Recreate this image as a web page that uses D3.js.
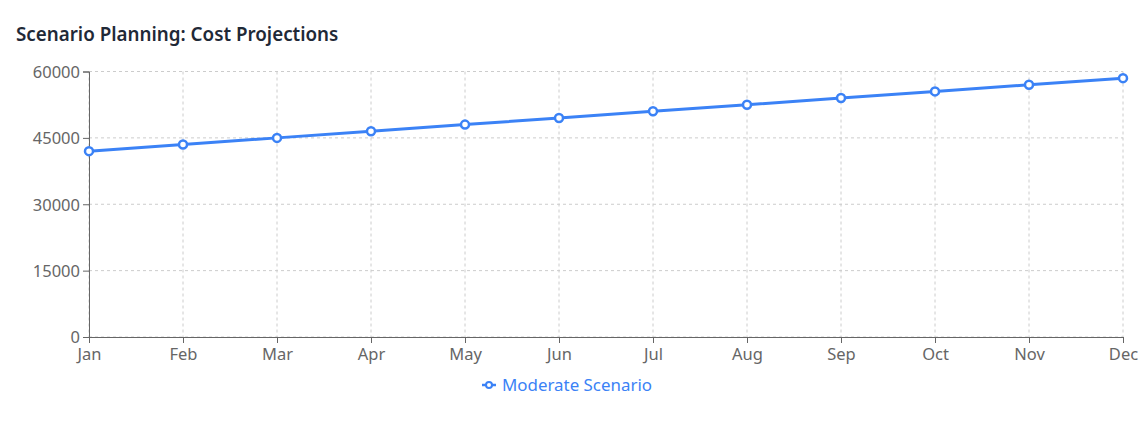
<!DOCTYPE html>
<html>
<head>
<meta charset="utf-8">
<script src="https://cdn.jsdelivr.net/npm/d3@7"></script>
<style>
  body { margin: 0; background: #fff; font-family: "Noto Sans", "Open Sans", sans-serif; }
  svg text { font-family: "Noto Sans", "Open Sans", sans-serif; }
</style>
</head>
<body>
<svg id="chart" width="1148" height="427"></svg>
<script>
const MONTHS = ["Jan", "Feb", "Mar", "Apr", "May", "Jun", "Jul", "Aug", "Sep", "Oct", "Nov", "Dec"];
const MODERATE = [42000, 43500, 45000, 46500, 48000, 49500, 51000, 52500, 54000, 55500, 57000, 58500];
const Y_TICKS = [0, 15000, 30000, 45000, 60000];
const SERIES_NAME = "Moderate Scenario";
const BLUE = "#3b82f6";

const svg = d3.select("#chart");
const margin = { left: 89, right: 25, top: 71.5, bottom: 90 };
const width = 1148, height = 427;

svg.append("text")
  .attr("x", 16).attr("y", 41)
  .attr("font-size", 18.8).attr("font-weight", 600)
  .attr("fill", "#1f2937")
  .text("Scenario Planning: Cost Projections");

const x = d3.scalePoint().domain(MONTHS).range([margin.left, width - margin.right]);
const y = d3.scaleLinear().domain([0, 60000]).range([height - margin.bottom, margin.top]);

// grid
const grid = svg.append("g").attr("stroke", "#ccc").attr("stroke-dasharray", "3 3");
grid.selectAll(".h").data(Y_TICKS).enter().append("line")
  .attr("x1", margin.left).attr("x2", width - margin.right)
  .attr("y1", (d) => y(d)).attr("y2", (d) => y(d));
grid.selectAll(".v").data(MONTHS).enter().append("line")
  .attr("x1", (d) => x(d)).attr("x2", (d) => x(d))
  .attr("y1", margin.top).attr("y2", height - margin.bottom);

// axes
const xAxis = svg.append("g")
  .attr("transform", `translate(0,${height - margin.bottom})`)
  .call(d3.axisBottom(x).tickSize(6).tickPadding(4));
const yAxis = svg.append("g")
  .attr("transform", `translate(${margin.left},0)`)
  .call(d3.axisLeft(y).tickValues(Y_TICKS).tickFormat(d3.format("d")).tickSize(6).tickPadding(3));

[xAxis, yAxis].forEach((ax) => {
  ax.selectAll("path, line").attr("stroke", "#666");
  ax.selectAll("text").attr("fill", "#666").attr("font-size", 16.5);
});
yAxis.selectAll("text").attr("dy", "0.35em");
xAxis.selectAll("text").attr("dy", "0.76em");

// line
const data = MONTHS.map((m, i) => ({ m, v: MODERATE[i] }));
svg.append("path")
  .datum(data)
  .attr("fill", "none")
  .attr("stroke", BLUE)
  .attr("stroke-width", 3)
  .attr("d", d3.line().x((d) => x(d.m)).y((d) => y(d.v)));

svg.selectAll(".dot").data(data).enter().append("circle")
  .attr("cx", (d) => x(d.m)).attr("cy", (d) => y(d.v))
  .attr("r", 4)
  .attr("fill", "#fff").attr("stroke", BLUE).attr("stroke-width", 2.5);

// legend
const lg = svg.append("g").attr("transform", "translate(482,385)");
lg.append("line").attr("x1", 0).attr("x2", 14).attr("y1", 0).attr("y2", 0)
  .attr("stroke", BLUE).attr("stroke-width", 2.5);
lg.append("circle").attr("cx", 7).attr("cy", 0).attr("r", 3)
  .attr("fill", "#fff").attr("stroke", BLUE).attr("stroke-width", 2);
lg.append("text").attr("x", 20).attr("y", 0).attr("dy", "0.35em")
  .attr("font-size", 16.9).attr("fill", BLUE)
  .text(SERIES_NAME);
</script>
</body>
</html>
